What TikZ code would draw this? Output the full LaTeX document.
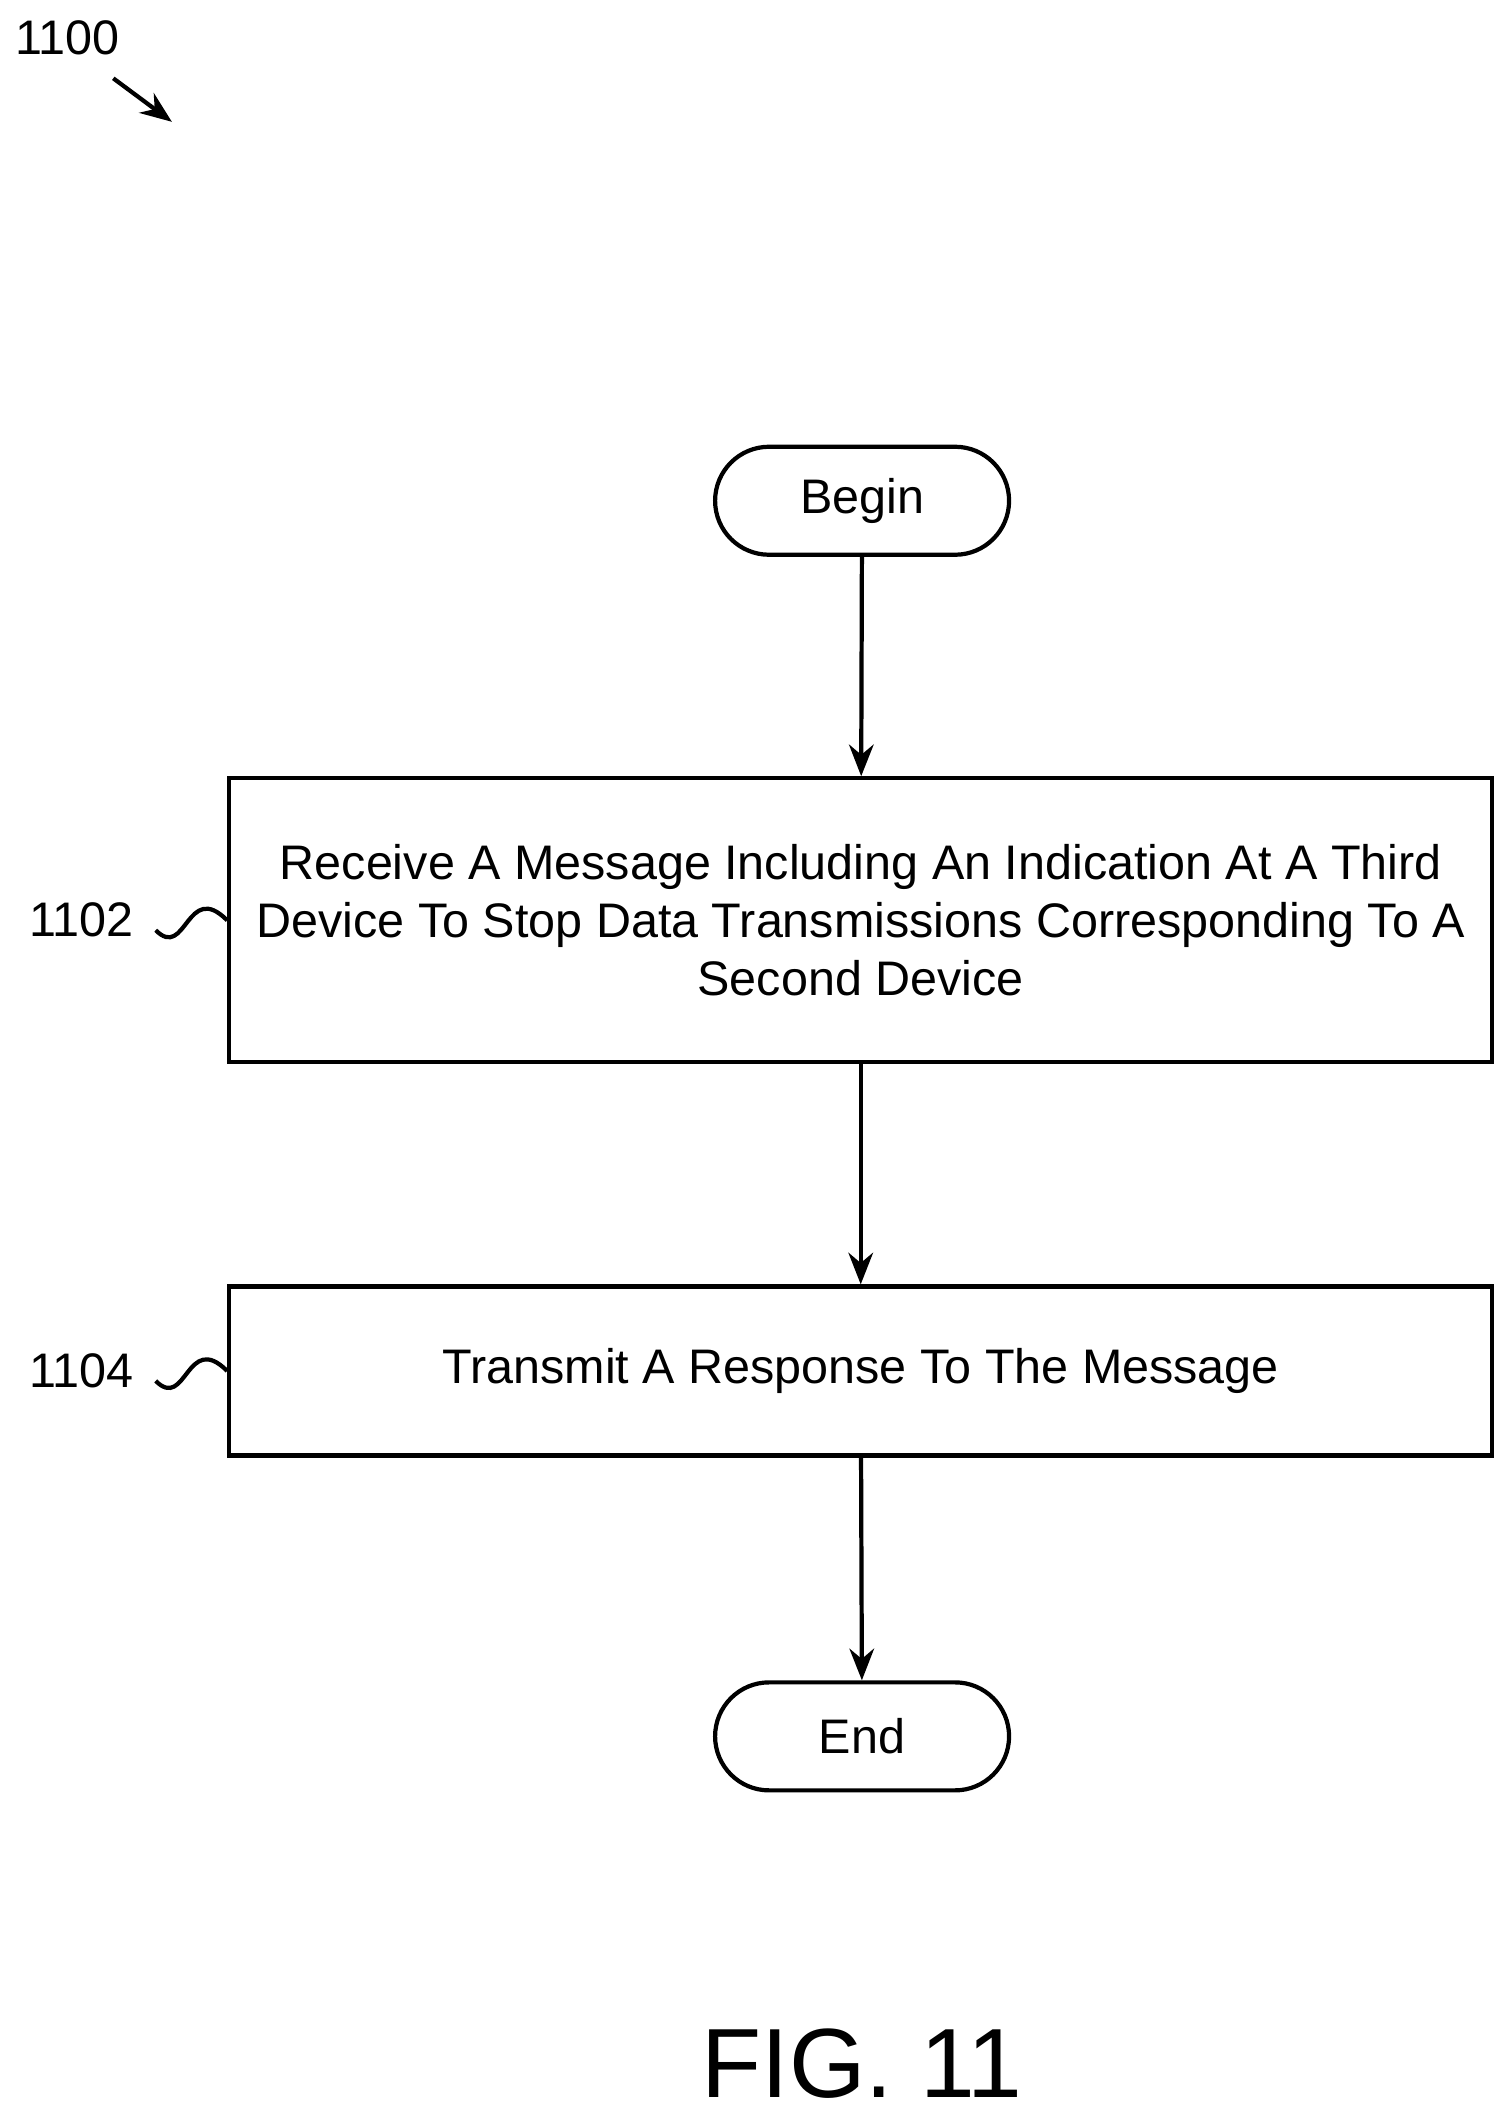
\documentclass[tikz,border=0pt]{standalone}
\usepackage{fontspec}
\setmainfont{Liberation Sans}
\usetikzlibrary{positioning,arrows.meta}
\begin{document}
\begin{tikzpicture}[
        x=0.01354cm,y=-0.01354cm,
        >={Stealth[length=9pt,width=7pt]},
        every node/.style={font=\fontsize{13.8}{16.4}\selectfont},
        terminal/.style={
          draw,
          very thick,
          rounded corners=0.54cm,
          minimum width=2.94cm,
          minimum height=1.08cm
        },
        block/.style={
          draw,
          very thick,
          minimum width=12.63cm,
          align=center
        },
        flow/.style={
          ->,
          very thick
        },
        squiggle/.style={
          very thick,
          shorten <=4pt
        }
      ]
        \useasboundingbox (0,0) rectangle (1117,1565);
        \node (n1100) at (50,28) {1100};
        \coordinate (tip) at (127,90);
        \draw[flow] (n1100.south east) ++(-14,8) -- (tip);

        \node[terminal] (begin) at (637,370) {Begin};
        \node[block,minimum height=2.84cm] (s1102) at (636,680)
          {Receive A Message Including An Indication At A Third\\
           Device To Stop Data Transmissions Corresponding To A\\
           Second Device};
        \node[block,minimum height=1.69cm] (s1104) at (636,1013)
          {Transmit A Response To The Message};
        \node[terminal] (end) at (637,1283) {End};

        \node (l1102) at (60,680) {1102};
        \node (l1104) at (60,1013) {1104};

        \node[font=\fontsize{28}{34}\selectfont] (fig) at (637,1525) {FIG. 11};

        \draw[flow] (begin) -- (s1102);
        \draw[flow] (s1102) -- (s1104);
        \draw[flow] (s1104) -- (end);

        \draw[squiggle] (l1102.east) .. controls +(30,30) and +(-30,-30) .. (s1102.west);
        \draw[squiggle] (l1104.east) .. controls +(30,30) and +(-30,-30) .. (s1104.west);
      \end{tikzpicture}
\end{document}
